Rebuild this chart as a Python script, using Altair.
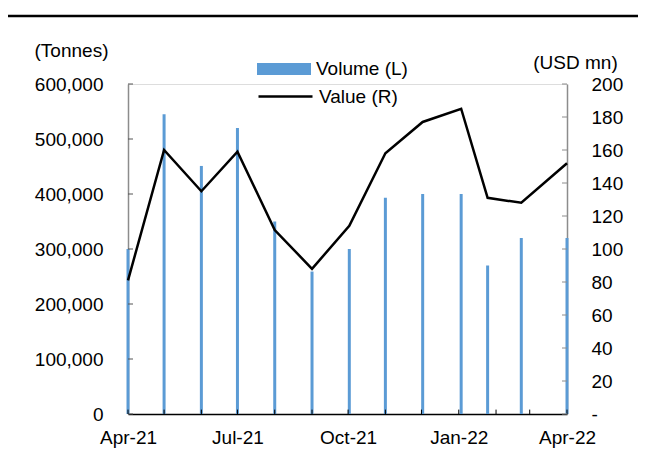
import altair as alt
import pandas as pd

# ---- data ----
dates = ["2021-04-01", "2021-05-01", "2021-06-01", "2021-07-01", "2021-08-01",
         "2021-09-01", "2021-10-02", "2021-11-01", "2021-12-02", "2022-01-03",
         "2022-01-25", "2022-02-22", "2022-04-01"]
volume = [300000, 545000, 451000, 520000, 350000, 259000, 300000,
          393000, 400000, 400000, 270000, 320000, 320000]
value = [81, 160, 135, 159, 111.5, 88, 114, 158, 177, 185, 131, 128, 152]

left_ticks = [0, 100000, 200000, 300000, 400000, 500000, 600000]
right_ticks = [0, 20, 40, 60, 80, 100, 120, 140, 160, 180, 200]
month_ticks = ["2021-04-01", "2021-05-01", "2021-06-01", "2021-07-01", "2021-08-01",
               "2021-09-01", "2021-10-01", "2021-11-01", "2021-12-01", "2022-01-01",
               "2022-02-01", "2022-03-01", "2022-04-01"]
label_dates = [(2021, 4), (2021, 7), (2021, 10), (2022, 1), (2022, 4)]

W, H = 439, 330
FONT = "Liberation Sans"
FS = 19
BLUE = "#5b9bd5"

df = pd.DataFrame({"date": dates, "volume": volume, "value": value})

x_scale = alt.Scale(type="utc", padding=0,
                    domain=[alt.DateTime(year=2021, month=4, date=1, utc=True),
                            alt.DateTime(year=2022, month=4, date=1, utc=True)])
x_axis = alt.Axis(values=[alt.DateTime(year=y, month=m, date=1, utc=True) for y, m in label_dates],
                  labelExpr="utcFormat(datum.value, '%b-%y')", title=None, ticks=False, tickSize=0,
                  labelPadding=14, domainColor="black", domainWidth=1.5,
                  labelFontSize=FS, labelAngle=0, labelFlush=False, labelColor="black")

left_scale = alt.Scale(domain=[0, 600000], nice=False)
left_axis = alt.Axis(values=left_ticks, labelExpr="format(datum.value, ',')", ticks=False,
                     tickSize=0, labelPadding=25,
                     domainColor="#8c8c8c", domainWidth=1.5, labelFontSize=FS, labelColor="black",
                     title="(Tonnes)", titleAngle=0, titleX=-57, titleY=-34, titleAlign="center",
                     titleBaseline="middle", titleFontSize=FS, titleFontWeight="normal",
                     titleColor="black", titleFont=FONT)

right_scale = alt.Scale(domain=[0, 200], nice=False)
right_axis = alt.Axis(orient="right", values=right_ticks, ticks=False, tickSize=0, labelPadding=24,
                      labelExpr="datum.value == 0 ? '-' : format(datum.value, 'd')",
                      domainColor="#8c8c8c", domainWidth=1.5, labelFontSize=FS, labelColor="black",
                      title="(USD mn)", titleAngle=0, titleX=8, titleY=-22, titleAlign="center",
                      titleBaseline="middle", titleFontSize=FS, titleFontWeight="normal",
                      titleColor="black", titleFont=FONT)

top_rule = alt.Chart(pd.DataFrame({"a": [0]})).mark_rule(color="black", strokeWidth=2.5).encode(
    x=alt.value(-120), x2=alt.value(510), y=alt.value(-68))

bars = alt.Chart(df).transform_calculate(s="'Volume (L)'").mark_bar(size=3).encode(
    x=alt.X("date:T", scale=x_scale, axis=x_axis),
    y=alt.Y("volume:Q", scale=left_scale, axis=left_axis),
    fill=alt.Fill("s:N", scale=alt.Scale(domain=["Volume (L)"], range=[BLUE]),
                  legend=alt.Legend(orient="none", legendX=129, legendY=-42, title=None,
                                    symbolType="M-1,-0.22H1V0.22H-1Z", symbolSize=2916,
                                    symbolStrokeWidth=0, symbolOpacity=1,
                                    labelFontSize=FS, labelColor="black", labelFont=FONT,
                                    labelOffset=5, padding=0)),
)

lticks = alt.Chart(pd.DataFrame({"volume": left_ticks})).mark_rule(color="#555555").encode(
    y=alt.Y("volume:Q", scale=left_scale, axis=left_axis),
    x=alt.value(0), x2=alt.value(5))

xticks = alt.Chart(pd.DataFrame({"date": month_ticks, "volume": [0] * len(month_ticks),
                                 "hi": [8000] * len(month_ticks)})).mark_rule(color="black").encode(
    x=alt.X("date:T", scale=x_scale, axis=x_axis),
    y=alt.Y("volume:Q", scale=left_scale, axis=left_axis), y2="hi:Q")

line = alt.Chart(df).transform_calculate(s="'Value (R)'").mark_line(strokeWidth=2.5).encode(
    x=alt.X("date:T", scale=x_scale, axis=x_axis),
    y=alt.Y("value:Q", scale=right_scale, axis=right_axis),
    stroke=alt.Stroke("s:N", scale=alt.Scale(domain=["Value (R)"], range=["black"]),
                      legend=alt.Legend(orient="none", legendX=129, legendY=-16, title=None,
                                        symbolType="stroke", symbolSize=2916,
                                        symbolStrokeWidth=2.5,
                                        labelFontSize=FS, labelColor="black", labelFont=FONT,
                                        labelOffset=5, padding=0)),
)

rticks = alt.Chart(pd.DataFrame({"value": right_ticks})).mark_rule(color="#8c8c8c").encode(
    y=alt.Y("value:Q", scale=right_scale, axis=right_axis),
    x=alt.value(W), x2=alt.value(W - 5))

left = alt.layer(top_rule, bars, lticks, xticks)
right = alt.layer(line, rticks)

chart = alt.layer(left, right).resolve_scale(y="independent").properties(
    width=W, height=H,
    padding={"left": 120, "top": 76, "right": 71, "bottom": 36},
    autosize=alt.AutoSizeParams(type="none"),
).configure_view(stroke=None).configure(font=FONT).configure_axis(grid=False)

chart.save("out.html", embed_options={"renderer": "svg", "actions": False})
